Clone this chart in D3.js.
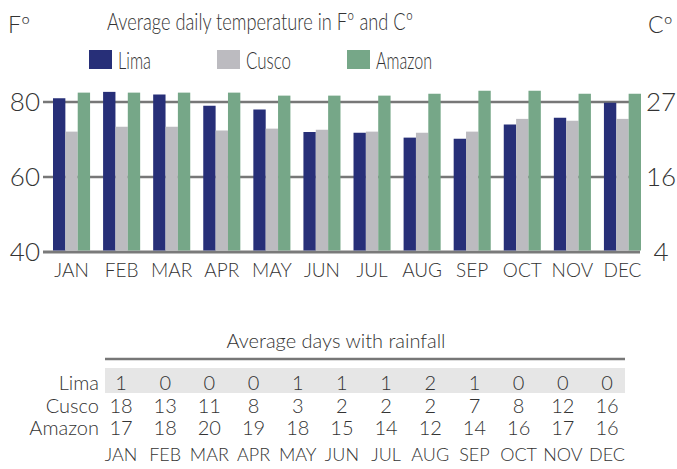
<!DOCTYPE html>
<html>
<head>
<meta charset="utf-8">
<title>Average daily temperature</title>
<script src="https://d3js.org/d3.v7.min.js"></script>
<style>
  body { margin: 0; background: #fff; }
  text { font-family: Lato, "Open Sans", sans-serif; font-weight: 300; fill: #333; }
</style>
</head>
<body>
<div id="chart"></div>
<script>
const months = ["JAN","FEB","MAR","APR","MAY","JUN","JUL","AUG","SEP","OCT","NOV","DEC"];
const series = ["Lima","Cusco","Amazon"];
const colors = ["#272f78","#bcbbc0","#76a788"];

// average daily temperature, °F
const limaTemp   = [81, 82.7, 82, 79, 78, 72, 71.8, 70.5, 70.2, 74, 75.8, 79.8];
const cuscoTemp  = [72.1, 73.4, 73.4, 72.4, 72.9, 72.6, 72.1, 71.8, 72.1, 75.5, 75, 75.5];
const amazonTemp = [82.5, 82.5, 82.5, 82.5, 81.7, 81.7, 81.7, 82.2, 83, 83, 82.2, 82.2];

const fTicks = [40, 60, 80];
const cTicks = [4, 16, 27];

// average days with rainfall
const limaRain   = [1, 0, 0, 0, 1, 1, 1, 2, 1, 0, 0, 0];
const cuscoRain  = [18, 13, 11, 8, 3, 2, 2, 2, 7, 8, 12, 16];
const amazonRain = [17, 18, 20, 19, 18, 15, 14, 12, 14, 16, 17, 16];

const width = 677, height = 469;
const svg = d3.select("#chart").append("svg")
  .attr("width", width).attr("height", height);

const temps = [limaTemp, cuscoTemp, amazonTemp];
const data = months.map((m, i) => ({ month: m, values: series.map((s, j) => ({ key: s, value: temps[j][i] })) }));

const x = d3.scaleBand().domain(months).range([46.5, 647.5])
  .paddingInner(0.26).paddingOuter(0.13);
const xs = d3.scaleBand().domain(series).range([0, x.bandwidth()]);
const y = d3.scaleLinear().domain([40, 80]).range([252, 102]);
const color = d3.scaleOrdinal().domain(series).range(colors);

// gridlines
svg.append("g")
  .selectAll("line").data(fTicks).join("line")
  .attr("x1", 43).attr("x2", 640)
  .attr("y1", d => y(d)).attr("y2", d => y(d))
  .attr("stroke", d => d === 40 ? "#7a7a7a" : "#777")
  .attr("stroke-width", d => d === 40 ? 3 : 2.5);

// bars
svg.append("g")
  .selectAll("g").data(data).join("g")
  .attr("transform", d => `translate(${x(d.month)},0)`)
  .selectAll("rect").data(d => d.values).join("rect")
  .attr("x", d => xs(d.key))
  .attr("width", xs.bandwidth())
  .attr("y", d => y(d.value))
  .attr("height", d => y(40) - y(d.value) - 1.5)
  .attr("fill", d => color(d.key));

// axis labels
svg.append("g").selectAll("text").data(fTicks).join("text")
  .attr("x", 40).attr("y", d => y(d)).attr("dy", "0.36em")
  .attr("text-anchor", "end").style("font-size", "26px")
  .text(d => d);

svg.append("g").selectAll("text").data(cTicks).join("text")
  .attr("x", 661).attr("y", (d, i) => y(fTicks[i])).attr("dy", "0.36em")
  .attr("text-anchor", "middle").style("font-size", "26px")
  .text(d => d);

svg.append("g").selectAll("text").data(months).join("text")
  .attr("x", d => x(d) + x.bandwidth() / 2).attr("y", 277)
  .attr("text-anchor", "middle").style("font-size", "19px")
  .text(d => d);

// titles
svg.append("text").attr("x", 107).attr("y", 30)
  .attr("textLength", 306).attr("lengthAdjust", "spacingAndGlyphs")
  .style("font-size", "24px").text("Average daily temperature in Fº and  Cº");
svg.append("text").attr("x", 8).attr("y", 33).style("font-size", "23px").text("Fº");
svg.append("text").attr("x", 648).attr("y", 33).style("font-size", "23px").text("Cº");

// legend
const legendX = [89, 217, 347];
const legendW = [33, 45, 56];
const legend = svg.append("g").selectAll("g").data(series).join("g")
  .attr("transform", (d, i) => `translate(${legendX[i]},50)`);
legend.append("rect").attr("width", 23).attr("height", 19).attr("fill", d => color(d));
legend.append("text").attr("x", 29).attr("y", 19)
  .attr("textLength", (d, i) => legendW[i]).attr("lengthAdjust", "spacingAndGlyphs")
  .style("font-size", "23px").text(d => d);

// rainfall table
svg.append("text").attr("x", 336).attr("y", 348).attr("text-anchor", "middle")
  .style("font-size", "20px").text("Average days with rainfall");
svg.append("line").attr("x1", 105).attr("x2", 625).attr("y1", 359).attr("y2", 359)
  .attr("stroke", "#777").attr("stroke-width", 2.5);
svg.append("rect").attr("x", 105).attr("y", 368).attr("width", 520).attr("height", 25)
  .attr("fill", "#e6e6e6");

const tx = d3.scalePoint().domain(months).range([121, 607]);
const rows = [limaRain, cuscoRain, amazonRain];
const rowY = d3.scalePoint().domain(series).range([390, 435]);

const row = svg.append("g").selectAll("g").data(series).join("g")
  .attr("transform", d => `translate(0,${rowY(d)})`);
row.append("text").attr("x", 99).attr("text-anchor", "end")
  .style("font-size", "20px").text(d => d);
row.selectAll("text.v").data((d, i) => rows[i].map((v, k) => ({ m: months[k], v })))
  .join("text").attr("class", "v")
  .attr("x", d => tx(d.m)).attr("text-anchor", "middle")
  .style("font-size", "20px").text(d => d.v);

svg.append("g").selectAll("text").data(months).join("text")
  .attr("x", d => tx(d)).attr("y", 461).attr("text-anchor", "middle")
  .style("font-size", "18px").text(d => d);
</script>
</body>
</html>
